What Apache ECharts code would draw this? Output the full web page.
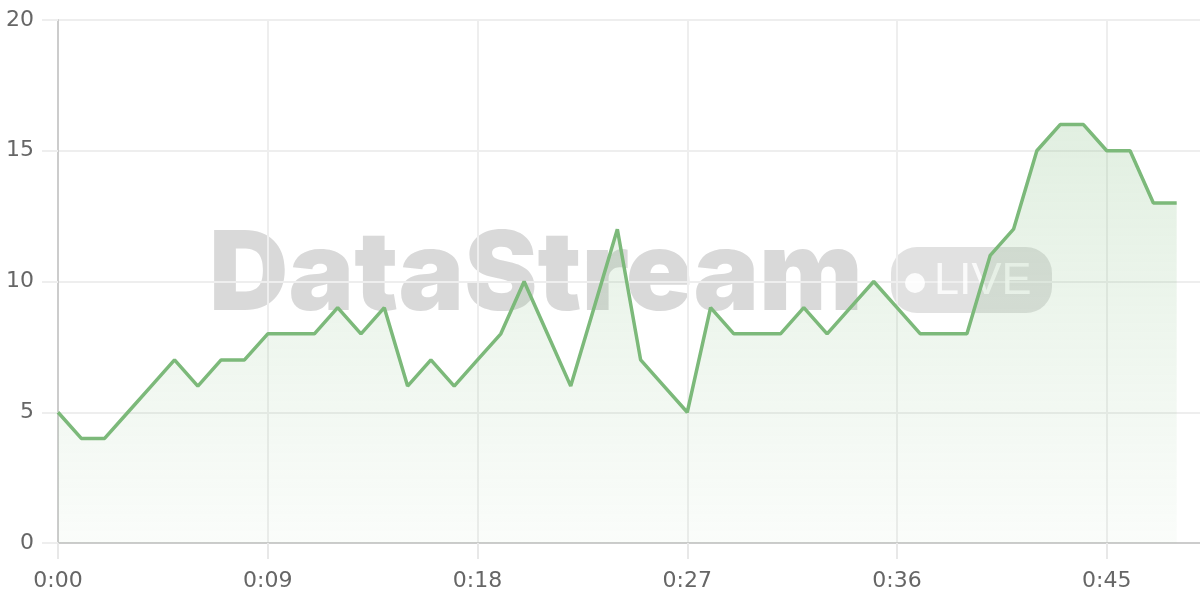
<!DOCTYPE html>
<html>
<head>
<meta charset="utf-8">
<script src="https://cdn.jsdelivr.net/npm/echarts@6/dist/echarts.min.js"></script>
<style>
html,body{margin:0;padding:0;background:#fff;}
#chart{width:1200px;height:600px;}
</style>
</head>
<body>
<div id="chart"></div>
<script>
// Time labels (minutes:seconds), one per sample slot
const categories = [];
for (let i = 0; i < 50; i++) {
  categories.push('0:' + (i < 10 ? '0' + i : String(i)));
}
// Series values
const values = [5,4,4,5,6,7,6,7,7,8,8,8,9,8,9,6,7,6,7,8,10,8,6,9,12,7,6,5,9,8,8,8,9,8,9,10,9,8,8,8,11,12,15,16,16,15,15,13,13];
const yTicks = [0,5,10,15,20];
const watermarkText = 'DataStream';
const badgeText = 'LIVE';

const chart = echarts.init(document.getElementById('chart'));
const labelFont = 'DejaVu Sans';
chart.setOption({
  animation: false,
  grid: {left: 58, right: 0, top: 20, bottom: 57, containLabel: false},
  graphic: [
    {
      type: 'text', z: 0,
      style: {x: 209, y: 277, text: watermarkText, font: '900 110px "Inter"', verticalAlign: 'middle', fill: 'rgba(128,128,128,0.30)'}
    },
    {
      type: 'rect', left: 891, top: 247, z: 0,
      shape: {width: 161, height: 66, r: 26},
      style: {fill: 'rgba(128,128,128,0.24)'}
    },
    {
      type: 'circle', left: 905, top: 273, z: 1,
      shape: {r: 10},
      style: {fill: 'rgba(255,255,255,0.9)'}
    },
    {
      type: 'text', left: 934, top: 259, z: 1,
      style: {text: badgeText, font: '45px "Liberation Sans"', fill: 'rgba(255,255,255,0.85)'}
    }
  ],
  xAxis: {
    type: 'category',
    data: categories,
    boundaryGap: false,
    axisLine: {show: true, lineStyle: {color: '#cccccc', width: 2}},
    axisTick: {show: true, interval: 8, length: 16, lineStyle: {color: '#e8e8e8', width: 2}},
    axisLabel: {interval: 8, margin: 27, color: '#666666', fontSize: 22, fontFamily: labelFont},
    splitLine: {show: true, interval: 8, lineStyle: {color: '#eeeeee', width: 2}}
  },
  yAxis: {
    type: 'value',
    min: yTicks[0],
    max: yTicks[yTicks.length - 1],
    interval: 5,
    axisLine: {show: true, lineStyle: {color: '#cccccc', width: 2}},
    axisTick: {show: true, length: 16, lineStyle: {color: '#eeeeee', width: 2}},
    axisLabel: {margin: 24, color: '#666666', fontSize: 22, fontFamily: labelFont},
    splitLine: {show: true, lineStyle: {color: '#eeeeee', width: 2}}
  },
  series: [{
    type: 'line',
    data: values,
    symbol: 'none',
    z: 3,
    lineStyle: {color: '#7cb97a', width: 3.5},
    areaStyle: {
      color: new echarts.graphic.LinearGradient(0, 0, 0, 1, [
        {offset: 0, color: 'rgba(124,185,122,0.32)'},
        {offset: 1, color: 'rgba(124,185,122,0.05)'}
      ])
    }
  }]
});
</script>
</body>
</html>
